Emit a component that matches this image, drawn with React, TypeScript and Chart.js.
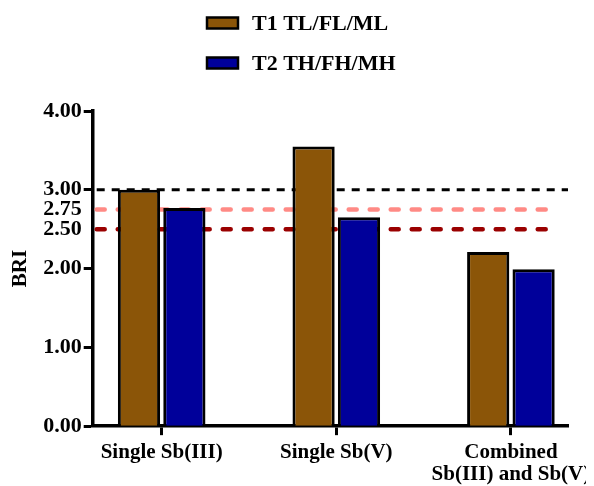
import React, { useEffect, useRef } from "react";
import { Chart, registerables } from "chart.js";

Chart.register(...registerables);

const categories: (string | string[])[] = [
  "Single Sb(III)",
  "Single Sb(V)",
  ["Combined", "Sb(III) and Sb(V)"],
];
const seriesNames = ["T1 TL/FL/ML", "T2 TH/FH/MH"];
const t1Values = [3.0, 3.55, 2.21];
const t2Values = [2.77, 2.65, 1.99];
const yTickValues = [0, 1, 2, 2.5, 2.75, 3, 4];
const yTickMarked = [0, 1, 2, 3, 4];
const refValues = [3.0, 2.75, 2.5];

const FONT = "'Liberation Serif', 'Times New Roman', serif";
const seriesColors = ["#8B5508", "#00009A"];
const refStyles = [
  { color: "#000000", dash: [8, 7], width: 3, cap: "butt" as CanvasLineCap, endInset: 0 },
  { color: "#FF8A85", dash: [8, 13], width: 4.5, cap: "round" as CanvasLineCap, endInset: 10 },
  { color: "#9A0000", dash: [8, 13], width: 4.5, cap: "round" as CanvasLineCap, endInset: 10 },
];

const refLinesPlugin = {
  id: "refLines",
  beforeDatasetsDraw(chart: any) {
    const { ctx, chartArea, scales } = chart;
    refValues.forEach((v, i) => {
      const s = refStyles[i];
      const y = scales.y.getPixelForValue(v);
      ctx.save();
      ctx.strokeStyle = s.color;
      ctx.lineWidth = s.width;
      ctx.lineCap = s.cap;
      ctx.setLineDash(s.dash);
      ctx.beginPath();
      ctx.moveTo(chartArea.left + 4, y);
      ctx.lineTo(chartArea.right - s.endInset, y);
      ctx.stroke();
      ctx.restore();
    });
  },
};

const legendPlugin = {
  id: "customLegend",
  afterDraw(chart: any) {
    const { ctx } = chart;
    const boxX = 199;
    const boxW = 31;
    const boxH = 11;
    const textX = 244;
    const rows = [15, 55];
    chart.data.datasets.forEach((ds: any, i: number) => {
      const cy = rows[i];
      ctx.save();
      ctx.fillStyle = ds.backgroundColor;
      ctx.fillRect(boxX, cy - boxH / 2, boxW, boxH);
      ctx.strokeStyle = "#000";
      ctx.lineWidth = 2.5;
      ctx.strokeRect(boxX, cy - boxH / 2, boxW, boxH);
      ctx.fillStyle = "#000";
      ctx.font = `bold 22px ${FONT}`;
      ctx.textBaseline = "middle";
      ctx.textAlign = "left";
      ctx.fillText(ds.label, textX, cy + 1);
      ctx.restore();
    });
  },
};

export default function App() {
  const ref = useRef<HTMLCanvasElement | null>(null);

  useEffect(() => {
    if (!ref.current) return;
    const chart = new Chart(ref.current, {
      type: "bar",
      data: {
        datasets: [
          {
            label: seriesNames[0],
            data: t1Values.map((v, i) => ({ x: i, y: v })),
            backgroundColor: seriesColors[0],
            borderColor: "#000",
            borderWidth: 3,
            categoryPercentage: 0.52,
            barPercentage: 0.93,
          },
          {
            label: seriesNames[1],
            data: t2Values.map((v, i) => ({ x: i, y: v })),
            backgroundColor: seriesColors[1],
            borderColor: "#000",
            borderWidth: 3,
            categoryPercentage: 0.52,
            barPercentage: 0.93,
          },
        ],
      } as any,
      options: {
        animation: false,
        responsive: true,
        maintainAspectRatio: false,
        layout: { padding: { top: 103, right: 26, left: 0, bottom: 0 } },
        plugins: {
          legend: { display: false },
          tooltip: { enabled: false },
        },
        scales: {
          x: {
            type: "linear",
            min: -0.395,
            max: 2.327,
            offset: false,
            afterBuildTicks: (scale: any) => {
              scale.ticks = categories.map((_, i) => ({ value: i }));
            },
            afterFit: (scale: any) => {
              scale.paddingLeft = 0;
              scale.paddingRight = 0;
            },
            grid: {
              offset: false,
              drawOnChartArea: false,
              drawTicks: true,
              tickLength: 9,
              tickWidth: 3,
              tickColor: "#000",
            },
            border: { display: true, color: "#000", width: 3.5 },
            ticks: {
              autoSkip: false,
              maxRotation: 0,
              padding: 7,
              color: "#000",
              font: { family: FONT, size: 21, weight: "bold", lineHeight: 1.02 },
              callback: (_v: any, i: number) => categories[i] as any,
            },
          } as any,
          y: {
            min: 0,
            max: 4,
            afterBuildTicks: (scale: any) => {
              scale.ticks = yTickValues.map((v) => ({ value: v }));
            },
            grid: {
              drawOnChartArea: false,
              drawTicks: true,
              tickLength: 9,
              tickWidth: 3,
              tickColor: (c: any) =>
                yTickMarked.includes(c.tick?.value) ? "#000" : "rgba(0,0,0,0)",
            },
            border: { display: true, color: "#000", width: 3.5 },
            ticks: {
              autoSkip: false,
              padding: 2,
              color: "#000",
              font: { family: FONT, size: 22, weight: "bold" },
              callback: (v: any) => Number(v).toFixed(2),
            },
            title: {
              display: true,
              text: "BRI",
              color: "#000",
              font: { family: FONT, size: 21, weight: "bold" },
              padding: { top: 0, bottom: 8 },
            },
          } as any,
        },
      },
      plugins: [refLinesPlugin, legendPlugin],
    });
    return () => chart.destroy();
  }, []);

  return (
    <div style={{ width: 586, height: 484, position: "relative" }}>
      <canvas ref={ref} />
    </div>
  );
}
